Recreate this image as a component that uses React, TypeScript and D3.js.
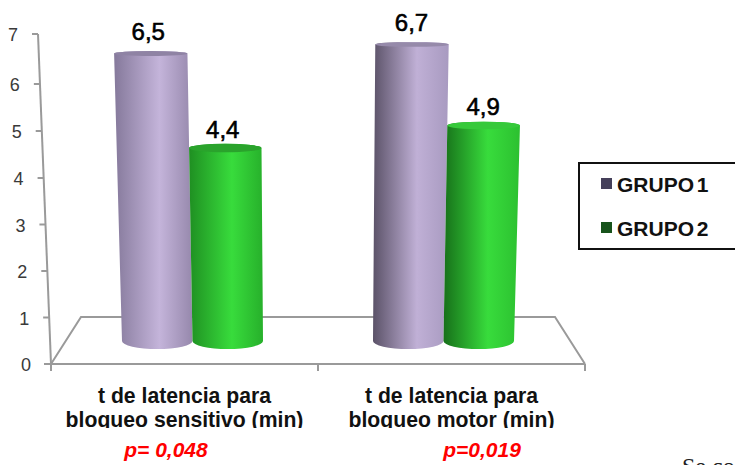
import { useEffect, useRef } from 'react';
import * as d3 from 'd3';

const categories = ['t de latencia para|bloqueo sensitivo (min)', 't de latencia para|bloqueo motor (min)'];
const seriesNames = ['GRUPO 1', 'GRUPO 2'];
const grupo1 = [6.5, 6.7];
const grupo2 = [4.4, 4.9];
const pValues = ['p= 0,048', 'p=0,019'];
const yTicks = [0, 1, 2, 3, 4, 5, 6, 7];

const SANS = '"Liberation Sans", Arial, sans-serif';
const legendColors = ['#45405a', '#17531b'];
const capColors = [
  ['#8f83a4', '#968aaa'],
  ['#2aa32c', '#36c93a'],
];
const shades = [
  [
    ['#85799b', '#c4b4da', '#9688ac'],
    ['#5b5268', '#c0b0d6', '#a89ac0'],
  ],
  [
    ['#1f8f22', '#38dc3c', '#27b02b'],
    ['#17701a', '#38dc3c', '#2cc030'],
  ],
];

export default function App() {
  const ref = useRef<SVGSVGElement>(null);

  useEffect(() => {
    const svg = d3.select(ref.current!);
    svg.selectAll('*').remove();

    const defs = svg.append('defs');
    defs.append('clipPath').attr('id', 'label-clip').append('rect').attr('x', 0).attr('y', 380).attr('width', 735).attr('height', 48);

    // wall scale for the tick marks, the axis leans to the right going down
    const wallY = d3.scaleLinear().domain([0, 4, 6, 7]).range([364, 178, 84, 34]);
    const wallX = d3.scaleLinear().domain([0, 7]).range([51, 38]);
    // bars stand in the middle of the floor so they have their own scale
    const barY = d3.scaleLinear().domain([0, 4.4, 7]).range([341, 148, 31]);
    const axisX = d3.scaleBand<string>().domain(categories).range([51, 585]);
    const floorX = d3.scaleBand<string>().domain(categories).range([67, 569]);
    const innerX = d3.scaleBand<string>().domain(seriesNames).range([0, floorX.bandwidth()]).paddingOuter(0.78);
    const centerX = 318;
    const spread = (x: number, v: number) => centerX + (x - centerX) * (1 + 0.0062 * v);
    const capRy = (v: number) => 8 - 0.85 * v;

    // floor
    const grid = svg.append('g').attr('fill', 'none').attr('stroke', '#9a9a9a').attr('stroke-width', 2);
    grid.append('path').attr('d', d3.line()([[51, 364], [81, 317], [555, 317], [585, 364]]));
    grid.append('line').attr('x1', 44).attr('x2', 585).attr('y1', wallY(0)).attr('y2', wallY(0));
    grid.selectAll('line.cat').data([51, 318, 585]).enter().append('line')
      .attr('x1', (d) => d).attr('x2', (d) => d).attr('y1', 364).attr('y2', 371);

    // y axis
    grid.append('line').attr('x1', wallX(7)).attr('y1', wallY(7)).attr('x2', wallX(0)).attr('y2', wallY(0));
    const ticks = svg.append('g').selectAll('g').data(yTicks).enter().append('g');
    ticks.append('line')
      .attr('x1', (d) => wallX(d) - 6).attr('x2', (d) => wallX(d))
      .attr('y1', (d) => wallY(d)).attr('y2', (d) => wallY(d))
      .attr('stroke', '#9a9a9a').attr('stroke-width', 2);
    ticks.append('text')
      .attr('x', (d) => wallX(d) - 20).attr('y', (d) => wallY(d) + 7)
      .attr('text-anchor', 'end').attr('font-family', SANS).attr('font-size', 18).attr('fill', '#3a3a3a')
      .text((d) => d);

    // cylinders
    [grupo1, grupo2].forEach((values, s) => {
      values.forEach((v, c) => {
        const x0 = floorX(categories[c])! + innerX(seriesNames[s])!;
        const x1 = x0 + innerX.bandwidth();
        const baseY = barY(0);
        const topY = barY(v);
        const tl = spread(x0, v);
        const tr = spread(x1, v);
        const rx = (x1 - x0) / 2;
        const topRx = (tr - tl) / 2;
        const id = `shade-${s}-${c}`;
        const grad = defs.append('linearGradient').attr('id', id);
        grad.append('stop').attr('offset', '0%').attr('stop-color', shades[s][c][0]);
        grad.append('stop').attr('offset', '58%').attr('stop-color', shades[s][c][1]);
        grad.append('stop').attr('offset', '100%').attr('stop-color', shades[s][c][2]);
        svg.append('path')
          .attr('d', `M${tl},${topY}L${x0},${baseY}A${rx},8 0 0 0 ${x1},${baseY}L${tr},${topY}A${topRx},${capRy(v)} 0 0 0 ${tl},${topY}Z`)
          .attr('fill', `url(#${id})`);
        svg.append('ellipse')
          .attr('cx', (tl + tr) / 2).attr('cy', topY).attr('rx', topRx).attr('ry', capRy(v))
          .attr('fill', capColors[s][c]);
        svg.append('text')
          .attr('x', (tl + tr) / 2 - (c === 0 ? 2.5 : 0.5)).attr('y', topY - (s === 0 ? 13.5 : 10.5))
          .attr('text-anchor', 'middle').attr('font-family', SANS).attr('font-size', 24)
          .attr('fill', '#000').attr('stroke', '#000').attr('stroke-width', 0.6)
          .text(d3.format('.1f')(v).replace('.', ','));
      });
    });

    // category labels, cut at the bottom as in the picture
    const labels = svg.append('g').attr('clip-path', 'url(#label-clip)')
      .attr('font-family', SANS).attr('font-size', 21.2).attr('font-weight', 'bold')
      .attr('text-anchor', 'middle').attr('fill', '#111');
    categories.forEach((cat) => {
      cat.split('|').forEach((line, i) => {
        labels.append('text')
          .attr('x', axisX(cat)! + axisX.bandwidth() / 2)
          .attr('y', 403 + i * 24)
          .text(line);
      });
    });

    svg.append('g').selectAll('text').data(pValues).enter().append('text')
      .attr('x', (_, i) => [166, 482][i]).attr('y', 457)
      .attr('text-anchor', 'middle').attr('font-family', SANS).attr('font-size', 21)
      .attr('font-weight', 'bold').attr('font-style', 'italic').attr('fill', '#ff0000')
      .text((d) => d);

    // legend, its right side runs off the page
    svg.append('rect').attr('x', 579).attr('y', 163).attr('width', 170).attr('height', 86)
      .attr('fill', '#fff').attr('stroke', '#111').attr('stroke-width', 2);
    seriesNames.forEach((name, i) => {
      svg.append('rect').attr('x', 601).attr('y', 178 + i * 44).attr('width', 11).attr('height', 11).attr('fill', legendColors[i]);
      svg.append('text').attr('x', 617).attr('y', 192 + i * 43.5)
        .attr('font-family', SANS).attr('font-size', 21).attr('font-weight', 'bold').attr('fill', '#111')
        .attr('word-spacing', -3).text(name);
    });

    // start of the next paragraph of the slide
    svg.append('text').attr('x', 682).attr('y', 474)
      .attr('font-family', '"Liberation Serif", serif').attr('font-size', 24).attr('fill', '#222').text('Se co');
  }, []);

  return (
    <svg
      ref={ref}
      width={735}
      height={465}
      style={{ position: 'absolute', left: 0, top: 0, display: 'block', background: '#fff' }}
    />
  );
}
